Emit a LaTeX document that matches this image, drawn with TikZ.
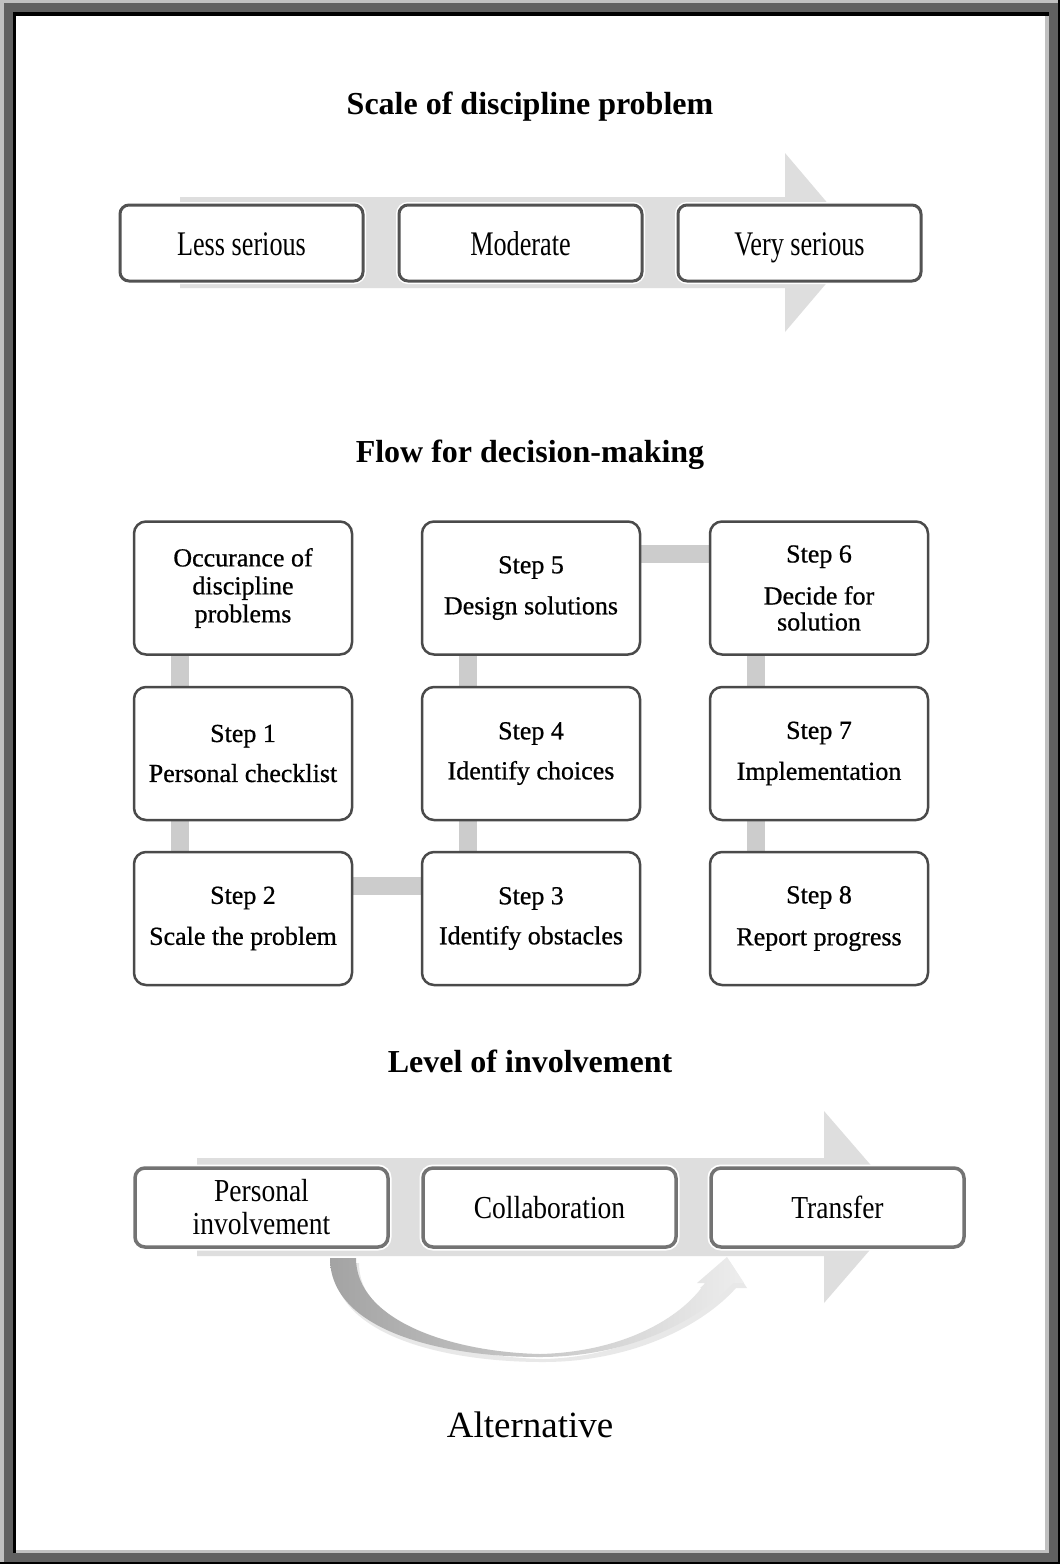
\documentclass[tikz,border=0pt]{standalone}
\usepackage{fontspec}
\setmainfont{Liberation Serif}
\newfontfamily\condA[FakeStretch=0.76]{Liberation Serif}
\newfontfamily\condB[FakeStretch=0.86]{Liberation Serif}
\newfontfamily\stepfont[FakeBold=0.7]{Liberation Serif}
\usetikzlibrary{calc}
\pgfdeclarelayer{frame}
\pgfdeclarelayer{bg}
\pgfsetlayers{frame,bg,main}
\definecolor{frameouter}{HTML}{C0C0C0}
\definecolor{framedark}{HTML}{606060}
\definecolor{arrowgray}{HTML}{DEDEDE}
\definecolor{bargray}{HTML}{CCCCCC}
\definecolor{boxline}{HTML}{4A4A4A}

\begin{document}
\begin{tikzpicture}[x=1pt,y=-1pt,
  title/.style={font=\fontsize{32}{36}\selectfont\bfseries, anchor=base, inner sep=0pt},
  rankbox/.style={rectangle, rounded corners=9pt, draw=black!68, line width=3pt,
    fill=white, minimum width=243pt, minimum height=76pt, inner sep=0pt,
    text height=26pt, text depth=2pt,
    font=\condA\fontsize{34.5}{36}\selectfont,
    preaction={draw=white, line width=6pt}},
  stepbox/.style={rectangle, rounded corners=12pt, draw=boxline, line width=2.5pt,
    fill=white, minimum width=218pt, minimum height=133pt, inner sep=0pt,
    align=center, font=\stepfont\fontsize{26}{28}\selectfont},
  involvebox/.style={rectangle, rounded corners=10pt, draw=black!55, line width=3.5pt,
    fill=white, minimum width=253pt, minimum height=79pt, inner sep=0pt,
    align=center, font=\condB\fontsize{32}{33}\selectfont,
    preaction={draw=white, line width=7pt}},
  bar/.style={draw=bargray, line width=18pt}
]
\useasboundingbox (0,0) rectangle (1060,1564);

% picture frame
\begin{pgfonlayer}{frame}
  \fill[black] (0,0) rectangle (1060,1564);
  \fill[frameouter] (0,0) rectangle (1058,1562);
  \fill[framedark] (4,3) rectangle (1058,1562);
  \fill[black] (13,12) rectangle (1049,1553);
  \fill[frameouter] (16,16) rectangle (1049,1553);
  \fill[white] (16,16) rectangle (1045,1550);
\end{pgfonlayer}

% ---- scale of discipline problem
\node[title] (t1) at (530,114) {Scale of discipline problem};
\fill[arrowgray] (180,197) -- (785,197) -- (785,153) -- (861,242.5)
  -- (785,332) -- (785,288) -- (180,288) -- cycle;
\node[rankbox] (less) at (241.5,243) {Less serious};
\node[rankbox] (mod)  at (520.5,243) {Moderate};
\node[rankbox] (very) at (799.5,243) {Very serious};

% ---- flow for decision-making
\node[title] (t2) at (530,462) {Flow for decision-making};
\node[stepbox] (occ) at (243,588) {Occurance of\\discipline\\problems};
\node[stepbox] (s1) at (243,753.5) {Step 1\\[12pt]Personal checklist};
\node[stepbox] (s2) at (243,918.5) {Step 2\\[13pt]Scale the problem};
\node[stepbox] (s3) at (531,918.5) {Step 3\\[12pt]Identify obstacles};
\node[stepbox] (s4) at (531,753.5) {Step 4\\[12pt]Identify choices};
\node[stepbox] (s5) at (531,588) {Step 5\\[13pt]Design solutions};
\node[stepbox] (s6) at (819,588) {Step 6\\[14pt]Decide for\\[-2pt]solution};
\node[stepbox] (s7) at (819,753.5) {Step 7\\[13pt]Implementation};
\node[stepbox] (s8) at (819,918.5) {Step 8\\[14pt]Report progress};

\begin{pgfonlayer}{bg}
  \draw[bar] ([xshift=-63pt]occ.south) -- ([xshift=-63pt]s1.north);
  \draw[bar] ([xshift=-63pt]s1.south) -- ([xshift=-63pt]s2.north);
  \draw[bar] ([yshift=32.5pt]s2.east) -- ([yshift=32.5pt]s3.west);
  \draw[bar] ([xshift=-63pt]s3.north) -- ([xshift=-63pt]s4.south);
  \draw[bar] ([xshift=-63pt]s4.north) -- ([xshift=-63pt]s5.south);
  \draw[bar] ([yshift=34pt]s5.east) -- ([yshift=34pt]s6.west);
  \draw[bar] ([xshift=-63pt]s6.south) -- ([xshift=-63pt]s7.north);
  \draw[bar] ([xshift=-63pt]s7.south) -- ([xshift=-63pt]s8.north);
\end{pgfonlayer}

% ---- level of involvement
\node[title] (t3) at (530,1072) {Level of involvement};
\fill[arrowgray] (197,1158) -- (824,1158) -- (824,1111) -- (907,1207)
  -- (824,1303) -- (824,1256) -- (197,1256) -- cycle;
\node[involvebox] (pers) at (261.5,1207.5) {Personal\\involvement};
\node[involvebox] (coll) at (549.5,1207.5) {Collaboration};
\node[involvebox] (tran) at (837.5,1207.5) {Transfer};

% curved arrow bypassing collaboration, with a soft shadow
\def\bypass{(330,1258) .. controls (330,1330) and (440,1357) .. (540,1357)
  .. controls (630,1357) and (700,1320) .. (733,1283)
  -- (744,1283) -- (727,1257) -- (697,1283) -- (705,1283)
  .. controls (680,1320) and (620,1352) .. (540,1354)
  .. controls (450,1352) and (356,1320) .. (356,1258) -- cycle}
\begin{scope}[shift={(3,5)}]
  \fill[black!20, opacity=0.45] \bypass;
\end{scope}
\shade[left color=black!36, right color=black!7] \bypass;

\node[anchor=base, inner sep=0pt, font=\fontsize{37}{40}\selectfont] (alt) at (530,1437) {Alternative};
\end{tikzpicture}
\end{document}
